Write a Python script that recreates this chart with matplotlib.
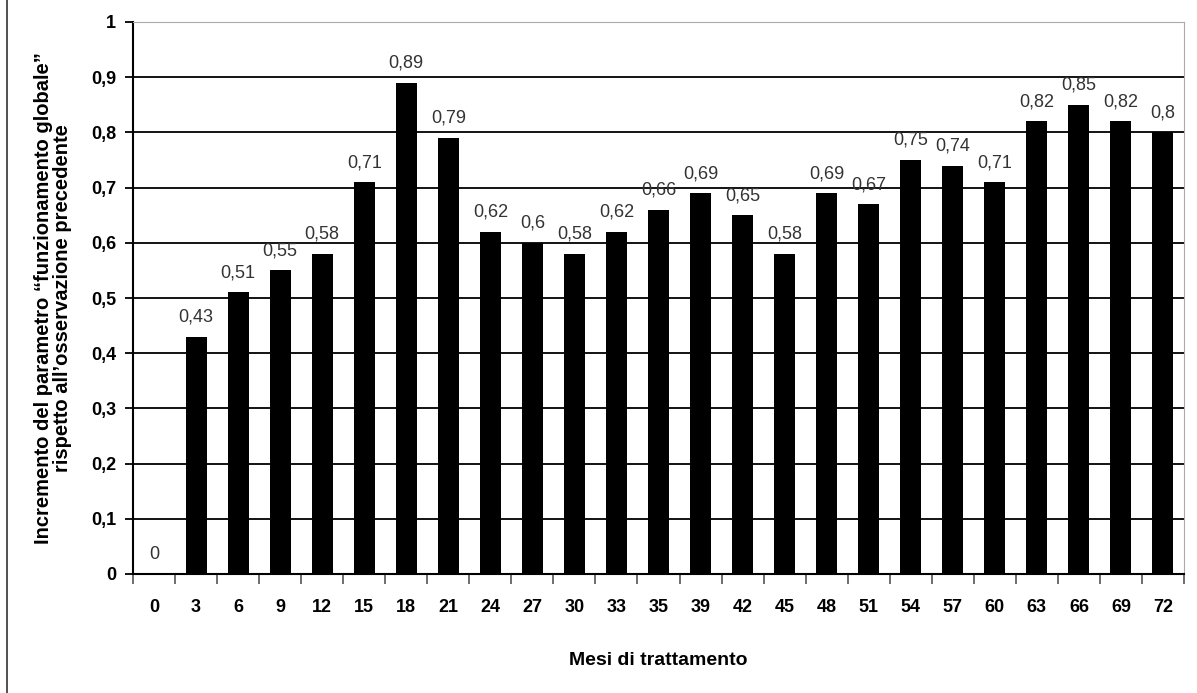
import matplotlib
matplotlib.use("Agg")
import matplotlib.pyplot as plt
from matplotlib.lines import Line2D
from matplotlib import font_manager

# months of treatment and increment values
mesi = ['0', '3', '6', '9', '12', '15', '18', '21', '24', '27', '30', '33', '35',
        '39', '42', '45', '48', '51', '54', '57', '60', '63', '66', '69', '72']
valori = [0, 0.43, 0.51, 0.55, 0.58, 0.71, 0.89, 0.79, 0.62, 0.6, 0.58, 0.62, 0.66,
          0.69, 0.65, 0.58, 0.69, 0.67, 0.75, 0.74, 0.71, 0.82, 0.85, 0.82, 0.8]
y_ticks = [0, 0.1, 0.2, 0.3, 0.4, 0.5, 0.6, 0.7, 0.8, 0.9, 1]

names = {f.name for f in font_manager.fontManager.ttflist}
font = 'Liberation Sans Narrow' if 'Liberation Sans Narrow' in names else 'Liberation Sans'
plt.rcParams['font.family'] = [font, 'DejaVu Sans']

def fmt(v):
    s = ('%.2f' % v).rstrip('0').rstrip('.')
    return s.replace('.', ',')

fig = plt.figure(figsize=(11.97, 6.93), dpi=100)
ax = fig.add_axes([133 / 1197, 1 - 574 / 693, (1184 - 133) / 1197, (574 - 22) / 693])

x = list(range(len(mesi)))
ax.bar(x, valori, width=0.5, color='black', zorder=3)

for xi, v in zip(x, valori):
    ax.text(xi, v + 0.02, fmt(v), ha='center', va='bottom', fontsize=13, color='#333333')

ax.set_xlim(-0.5, len(mesi) - 0.5)
ax.set_ylim(0, 1)
ax.set_yticks(y_ticks)
ax.set_yticklabels([fmt(t) for t in y_ticks], fontsize=13, fontweight='bold')
ax.yaxis.grid(True, color='black', linewidth=1.3, zorder=0)
ax.set_axisbelow(True)

ax.set_xticks(x)
ax.set_xticklabels(mesi, fontsize=13, fontweight='bold')
ax.tick_params(axis='x', which='major', length=0, pad=18)
ax.set_xticks([i - 0.5 for i in range(len(mesi) + 1)], minor=True)
ax.tick_params(axis='x', which='minor', length=7, width=1.2, color='#555555')
ax.tick_params(axis='y', length=6, width=1.3, pad=6)

ax.spines['left'].set_linewidth(1.5)
ax.spines['bottom'].set_linewidth(1.5)
ax.spines['top'].set_color('#aaaaaa')
ax.spines['right'].set_color('#aaaaaa')

ax.set_xlabel('Mesi di trattamento', fontsize=14, fontweight='bold', labelpad=26)
ax.set_ylabel('Incremento del parametro \u201cfunzionamento globale\u201d\nrispetto all\u2019osservazione precedente',
              fontsize=14.5, fontweight='bold', labelpad=14, linespacing=1.0)

# outer frame line on the left
fig.add_artist(Line2D([7 / 1197, 7 / 1197], [0, 1], color='#333333', linewidth=1.2))

fig.savefig('out.png', dpi=100)
